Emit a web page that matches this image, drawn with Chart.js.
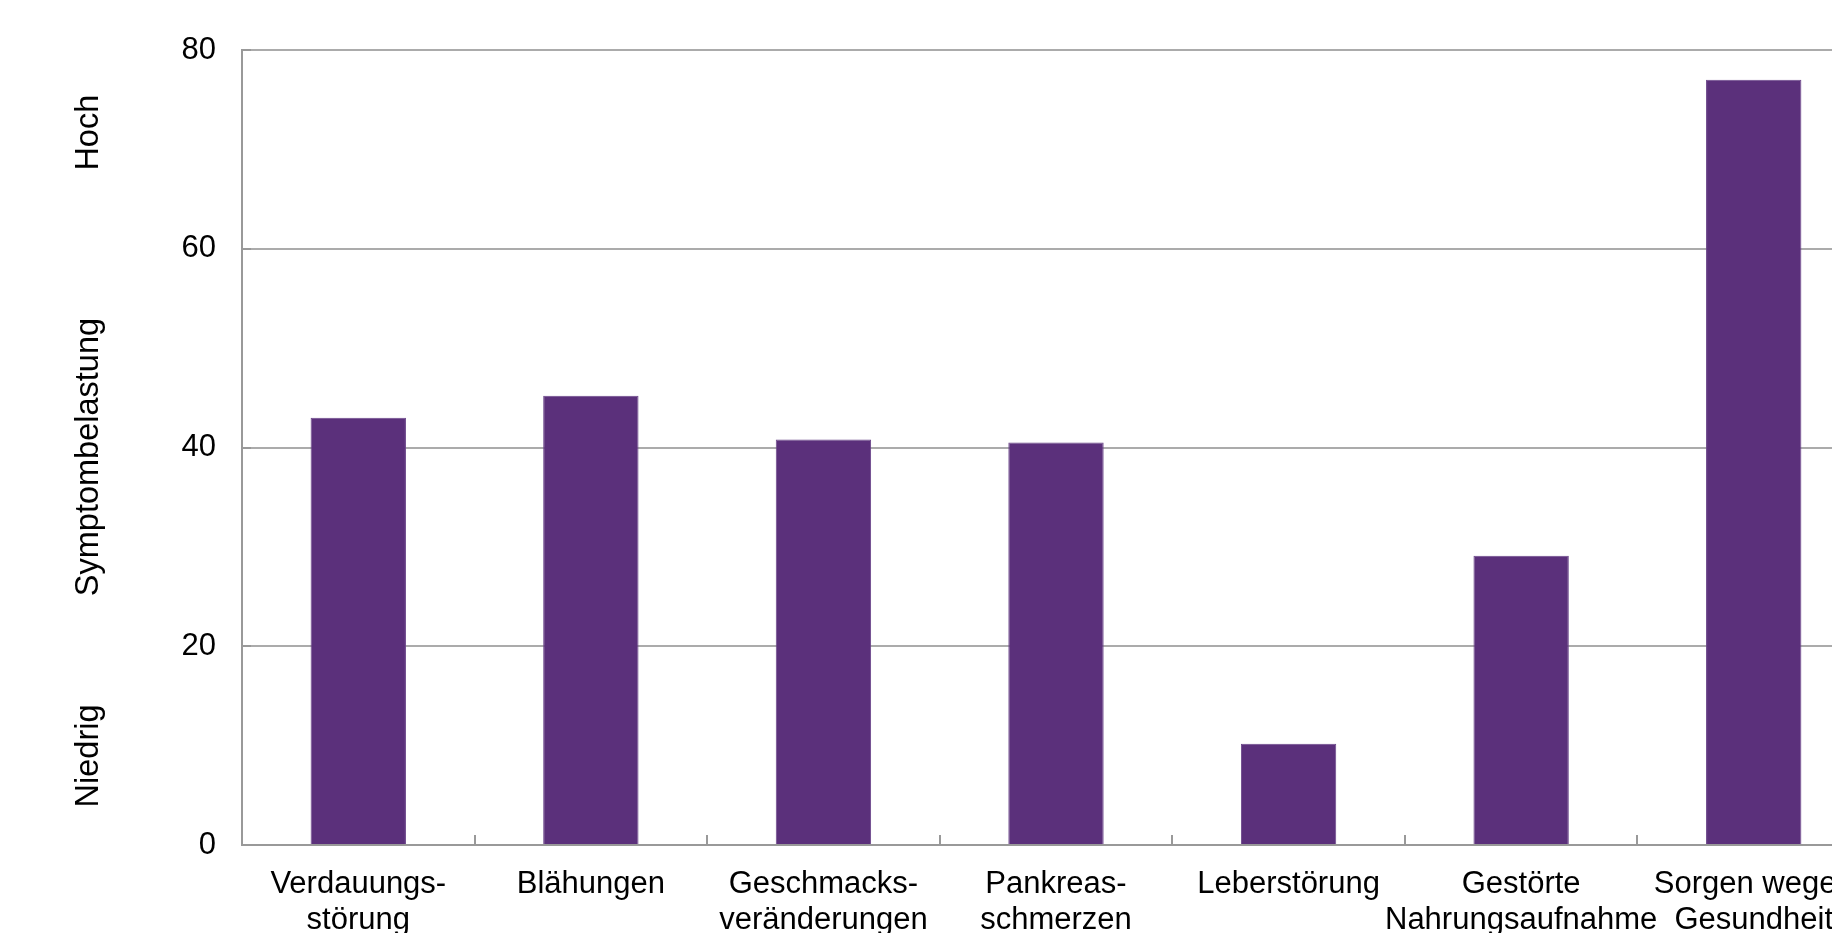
<!DOCTYPE html>
<html>
<head>
<meta charset="utf-8">
<title>Symptombelastung</title>
<script src="https://cdn.jsdelivr.net/npm/chart.js@4.4.0/dist/chart.umd.min.js"></script>
<style>
    html, body { margin: 0; padding: 0; overflow: hidden; background: #fff; }
    #wrap { position: absolute; left: 0; top: 0; width: 1880px; height: 933px; }
</style>
</head>
<body>
<div id="wrap"><canvas id="symptomChart"></canvas></div>
<script>
// symptom categories (two-line labels where the word is hyphenated)
const symptoms = [
    ['Verdauungs-', 'störung'],
    'Blähungen',
    ['Geschmacks-', 'veränderungen'],
    ['Pankreas-', 'schmerzen'],
    'Leberstörung',
    ['Gestörte', 'Nahrungsaufnahme'],
    ['Sorgen wegen', 'Gesundheit']
];
const burden = [43.0, 45.2, 40.8, 40.5, 10.2, 29.1, 77.0];
const yMin = 0;
const yMax = 80;
const yStep = 20;
const sideLabels = ['Hoch', 'Symptombelastung', 'Niedrig'];

const FONT = 'Liberation Sans, Arial, Helvetica, sans-serif';
const gridColor = '#ababab';
const axisColor = '#999999';

// rotated labels left of the value axis
const sideLabelPlugin = {
    id: 'sideLabels',
    afterDraw(chart) {
        const { ctx, chartArea } = chart;
        const h = chartArea.bottom - chartArea.top;
        const spots = [0.104, 0.512, 0.888];
        ctx.save();
        ctx.fillStyle = '#000';
        ctx.font = '32.5px ' + FONT;
        ctx.textAlign = 'center';
        ctx.textBaseline = 'middle';
        sideLabels.forEach((txt, i) => {
            ctx.save();
            ctx.translate(89, chartArea.top + h * spots[i]);
            ctx.rotate(-Math.PI / 2);
            ctx.fillText(txt, 0, 0);
            ctx.restore();
        });
        ctx.restore();
    }
};

// short tick marks pointing into the plot
const innerTicksPlugin = {
    id: 'innerTicks',
    afterDatasetsDraw(chart) {
        const { ctx, chartArea, scales } = chart;
        const x = scales.x, y = scales.y;
        ctx.save();
        ctx.strokeStyle = axisColor;
        ctx.lineWidth = 2;
        ctx.beginPath();
        for (let i = 1; i < symptoms.length; i++) {
            const px = Math.round((x.getPixelForValue(i - 1) + x.getPixelForValue(i)) / 2);
            ctx.moveTo(px, chartArea.bottom);
            ctx.lineTo(px, chartArea.bottom - 10);
        }
        for (let v = yMin + yStep; v <= yMax; v += yStep) {
            const py = Math.round(y.getPixelForValue(v));
            ctx.moveTo(chartArea.left, py);
            ctx.lineTo(chartArea.left + 9, py);
        }
        ctx.stroke();
        ctx.restore();
    }
};

new Chart(document.getElementById('symptomChart'), {
    type: 'bar',
    data: {
        labels: symptoms,
        datasets: [{
            data: burden,
            backgroundColor: '#5b307b',
            borderColor: '#6a4489',
            borderWidth: 1,
            barPercentage: 0.41,
            categoryPercentage: 1.0
        }]
    },
    options: {
        responsive: true,
        maintainAspectRatio: false,
        animation: false,
        layout: { padding: { top: 50, right: 10, bottom: 0, left: 0 } },
        plugins: {
            legend: { display: false },
            tooltip: { enabled: false }
        },
        scales: {
            x: {
                offset: true,
                grid: { display: false, drawTicks: false },
                border: { display: true, color: axisColor, width: 2 },
                ticks: {
                    color: '#000',
                    font: { family: FONT, size: 31, lineHeight: 1.18 },
                    padding: 21,
                    maxRotation: 0,
                    autoSkip: false
                },
                afterFit(scale) { scale.height = 88; }
            },
            y: {
                min: yMin,
                max: yMax,
                grid: { color: gridColor, lineWidth: 2, drawTicks: false },
                border: { display: true, color: axisColor, width: 2 },
                ticks: {
                    stepSize: yStep,
                    color: '#000',
                    font: { family: FONT, size: 31 },
                    padding: 26
                },
                afterFit(scale) { scale.width = 242; }
            }
        }
    },
    plugins: [sideLabelPlugin, innerTicksPlugin]
});
</script>
</body>
</html>
